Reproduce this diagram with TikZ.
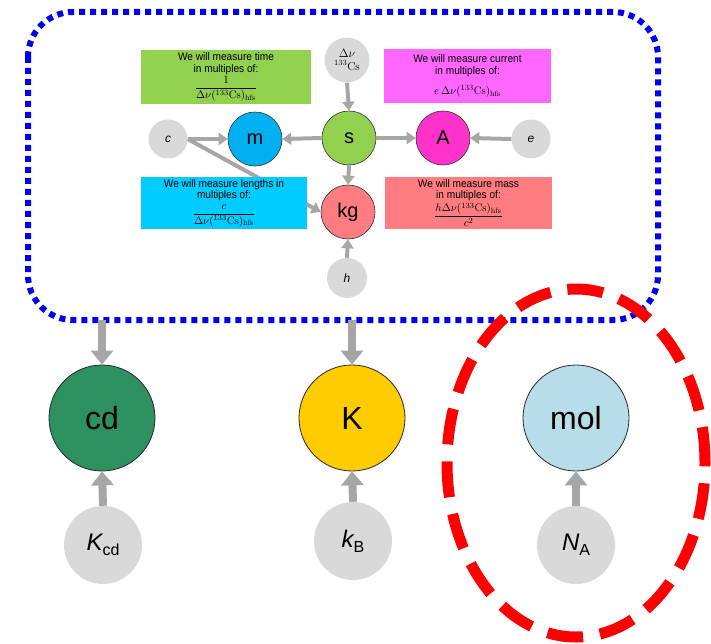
\documentclass[tikz,border=0pt]{standalone}
\usepackage{fontspec}
\newfontfamily\arial{Liberation Sans}
\newfontfamily\arialn[FakeStretch=0.92]{Liberation Sans}
\usetikzlibrary{arrows.meta}
\definecolor{agray}{RGB}{166,166,166}
\definecolor{cgray}{RGB}{217,217,217}
\definecolor{mblue}{RGB}{0,176,240}
\definecolor{sgreen}{RGB}{146,208,80}
\definecolor{amag}{RGB}{255,51,204}
\definecolor{kgsal}{RGB}{255,124,128}
\definecolor{bgreen}{RGB}{146,208,80}
\definecolor{bmag}{RGB}{255,102,255}
\definecolor{bcyan}{RGB}{0,204,255}
\definecolor{bsal}{RGB}{255,124,128}
\definecolor{cdgreen}{RGB}{46,145,96}
\definecolor{kyellow}{RGB}{255,204,0}
\definecolor{molblue}{RGB}{183,222,232}
\definecolor{dotblue}{RGB}{0,0,240}
\newcommand{\cshfs}{\Delta\nu(^{133}\mathrm{Cs})_{\mathrm{hfs}}}
\begin{document}
\begin{tikzpicture}[x=1pt,y=-1pt,
  gc/.style={circle, fill=cgray, draw=none, inner sep=0pt},
  unitc/.style={circle, draw=black!80, line width=0.6pt, inner sep=0pt, minimum size=54pt, font=\arial\fontsize{20}{24}\selectfont},
  bigc/.style={circle, draw=black!85, line width=0.8pt, inner sep=0pt, minimum size=106pt, font=\arial\fontsize{32}{36}\selectfont},
  constc/.style={circle, fill=cgray, inner sep=0pt, minimum size=78pt, font=\arial\fontsize{24}{28}\selectfont},
  infobox/.style={rectangle, inner sep=0pt, align=center, font=\arialn\fontsize{11}{11.5}\selectfont},
  ga/.style={draw=agray, line width=4pt, -{Triangle[width=12pt,length=9pt]}},
  gbig/.style={draw=agray, line width=8pt, -{Triangle[width=22pt,length=14pt]}},
  bluedot/.style={draw=dotblue, line width=6pt, dash pattern=on 6pt off 5pt, rounded corners=45pt},
  reddash/.style={draw=red, line width=11pt, dash pattern=on 36pt off 17pt}
]
\useasboundingbox (0,0) rectangle (711,644);

% big dotted frame
\draw[bluedot] (28,12) rectangle (658,320);
\coordinate (f1) at (102,320);
\coordinate (f2) at (352,320);

% inner nodes
\node[gc, minimum size=45pt, align=center, font=\fontsize{11.5}{12.5}\selectfont] (dnu) at (347,60) {$\Delta\nu$\\$^{133}$Cs};
\node[gc, minimum size=39pt, font=\arial\itshape\fontsize{12}{14}\selectfont] (c) at (168,139) {c};
\node[gc, minimum size=39pt, font=\arial\itshape\fontsize{12}{14}\selectfont] (e) at (531,139) {e};
\node[gc, minimum size=40pt, font=\arial\itshape\fontsize{12}{14}\selectfont] (h) at (347,278) {h};
\node[unitc, fill=mblue] (m) at (255,139) {m};
\node[unitc, fill=sgreen] (s) at (349,138) {s};
\node[unitc, fill=amag] (A) at (443,138) {A};
\node[unitc, fill=kgsal] (kg) at (348,212) {kg};

% connector c -> kg drawn behind the cyan box
\draw[ga] (c.east) -- (kg.west);

% info boxes
\node[infobox, fill=bgreen, minimum width=170pt, minimum height=54pt] (bt) at (226,77)
  {We will measure time\\in multiples of:\\[1pt]$\displaystyle\frac{1}{\cshfs}$};
\node[infobox, fill=bmag, minimum width=167pt, minimum height=54pt] (bc) at (467.5,76)
  {We will measure current\\in multiples of:\\[9pt]$e\,\cshfs$};
\node[infobox, fill=bcyan, minimum width=166pt, minimum height=52pt] (bl) at (224,203)
  {We will measure lengths in\\multiples of:\\[2.5pt]$\displaystyle\frac{c}{\cshfs}$};
\node[infobox, fill=bsal, minimum width=167pt, minimum height=52pt] (bm) at (468.5,203)
  {We will measure mass\\in multiples of:\\[1pt]$\displaystyle\frac{h\cshfs}{c^2}$};

% inner connectors
\draw[ga] (dnu.south) -- (s.north);
\draw[ga] (s.west) -- (m.east);
\draw[ga] (s.east) -- (A.west);
\draw[ga] (e.west) -- (A.east);
\draw[ga] (c.east) -- (m.west);
\draw[ga] (s.south) -- (kg.north);
\draw[ga] (h.north) -- (kg.south);

% bottom units
\node[bigc, fill=cdgreen] (cd) at (102,418) {cd};
\node[bigc, fill=kyellow] (K) at (352,418) {K};
\node[bigc, fill=molblue] (mol) at (576,418) {mol};
\node[constc] (Kcd) at (103,545) {\itshape K\fontsize{16}{18}\selectfont\raisebox{-5pt}{\upshape cd}};
\node[constc] (kB) at (353,541) {\itshape k\fontsize{16}{18}\selectfont\raisebox{-5pt}{\upshape B}};
\node[constc] (NA) at (576,545) {\itshape N\fontsize{16}{18}\selectfont\raisebox{-5pt}{\upshape A}};

\draw[gbig] (f1) -- (cd.north);
\draw[gbig] (f2) -- (K.north);
\draw[gbig] (Kcd.north) -- (cd.south);
\draw[gbig] (kB.north) -- (K.south);
\draw[gbig] (NA.north) -- (mol.south);

% red dashed ellipse
\draw[reddash] (576,463) ellipse [x radius=129pt, y radius=174pt];
\end{tikzpicture}
\end{document}
